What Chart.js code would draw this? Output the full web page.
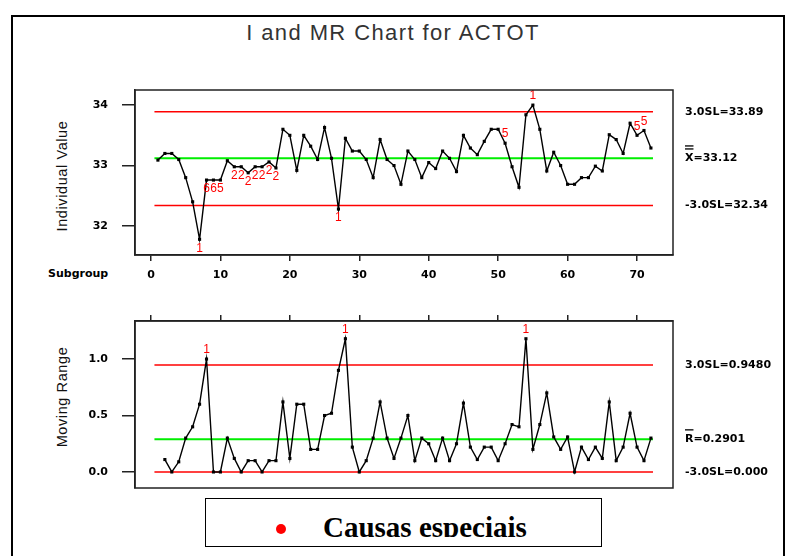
<!DOCTYPE html>
<html>
<head>
<meta charset="utf-8">
<script src="https://cdn.jsdelivr.net/npm/chart.js@4.4.1/dist/chart.umd.min.js"></script>
<style>
  body { margin: 0; background: #fff; width: 786px; height: 556px; overflow: hidden; position: relative; font-family: Arial, "Liberation Sans", sans-serif; }
  #border { position: absolute; left: 11px; top: 15px; width: 770px; height: 600px; border: 2px solid #000; }
  canvas { position: absolute; left: 0; }
  #title { position: absolute; top: 20px; left: 0; width: 786px; text-align: center; font-size: 22px; letter-spacing: 1.4px; color: #333; }
  .ylab { position: absolute; width: 200px; height: 16px; line-height: 16px; text-align: center; font-size: 14.5px; letter-spacing: 0.6px; color: #111; transform: rotate(-90deg); white-space: nowrap; }
  #subgroup { position: absolute; left: 48px; top: 267px; font: bold 11px "DejaVu Sans"; color: #000; }
  #legend { position: absolute; left: 205px; top: 498px; width: 395px; height: 47px; border: 1.5px solid #000; background: #fff; }
  #legend .dot { position: absolute; left: 70px; top: 25px; width: 10px; height: 10px; border-radius: 50%; background: #ff0000; }
  #legend .clip { position: absolute; left: 0; top: 0; width: 395px; height: 38px; overflow: hidden; }
  #legend .txt { position: absolute; left: 117px; top: 12px; line-height: 32px; font: bold 29px "Liberation Serif", "Times New Roman", serif; white-space: nowrap; }
</style>
</head>
<body>
<div id="border"></div>
<div id="title">I and MR Chart for ACTOT</div>
<div class="ylab" style="left:-38px; top:168px;">Individual Value</div>
<div class="ylab" style="left:-38px; top:389px;">Moving Range</div>
<div id="subgroup">Subgroup</div>
<canvas id="iChart" width="786" height="290" style="top:0"></canvas>
<canvas id="mrChart" width="786" height="266" style="top:290px"></canvas>
<div id="legend"><span class="dot"></span><div class="clip"><span class="txt">Causas especiais</span></div></div>

<script>
// individual values, subgroups 1..72
const individual = [
  33.09, 33.2, 33.2, 33.1, 32.8, 32.4, 31.78, 32.76, 32.76, 32.76,
  33.08, 32.98, 32.98, 32.88, 32.98, 32.98, 33.06, 32.96, 33.6, 33.5,
  32.92, 33.5, 33.32, 33.1, 33.63, 33.12, 32.28, 33.45, 33.24, 33.24,
  33.1, 32.8, 33.43, 33.1, 33.0, 32.69, 33.24, 33.1, 32.8, 33.05,
  32.95, 33.24, 33.12, 32.9, 33.5, 33.29, 33.18, 33.4, 33.6, 33.6,
  33.37, 32.98, 32.64, 33.84, 34.0, 33.6, 32.91, 33.22, 33.0, 32.69,
  32.69, 32.8, 32.8, 32.99, 32.91, 33.51, 33.43, 33.2, 33.7, 33.5,
  33.58, 33.29
];

// moving ranges, subgroups 2..72
const movingRange = [
  0.11, 0.0, 0.09, 0.3, 0.4, 0.6, 1.0, 0.0, 0.0,
  0.3, 0.12, 0.0, 0.1, 0.1, 0.0, 0.1, 0.1, 0.62, 0.12,
  0.6, 0.6, 0.2, 0.2, 0.5, 0.52, 0.9, 1.18, 0.22, 0.0,
  0.1, 0.3, 0.62, 0.3, 0.12, 0.3, 0.5, 0.1, 0.3, 0.25,
  0.1, 0.3, 0.1, 0.25, 0.61, 0.22, 0.11, 0.22, 0.22, 0.1,
  0.25, 0.42, 0.4, 1.18, 0.2, 0.42, 0.7, 0.31, 0.2, 0.31,
  0.0, 0.22, 0.11, 0.22, 0.12, 0.62, 0.1, 0.22, 0.52, 0.22,
  0.1, 0.3
];

const iLimits = { ucl: 33.89, center: 33.12, lcl: 32.34 };
const mrLimits = { ucl: 0.948, center: 0.2901, lcl: 0.0 };

const iLimitLabels = ["3.0SL=33.89", "X=33.12", "-3.0SL=32.34"];
const mrLimitLabels = ["3.0SL=0.9480", "R=0.2901", "-3.0SL=0.000"];

// failed tests (subgroup, test number)
const iFlagSubgroups = [7, 8, 9, 10, 12, 13, 14, 15, 16, 17, 18, 27, 51, 55, 70, 71];
const iFlagTests = ["1", "6", "6", "5", "2", "2", "2", "2", "2", "2", "2", "1", "5", "1", "5", "5"];
const mrFlagSubgroups = [8, 28, 54];
const mrFlagTests = ["1", "1", "1"];

const xTicks = [0, 10, 20, 30, 40, 50, 60, 70];
const iTicks = [32, 33, 34];
const mrTicks = [0.0, 0.5, 1.0];

const limitFrom = 0.5;
const limitTo = 72.3;

const tickFont = { family: "DejaVu Sans", size: 11, weight: "bold" };
const axisColor = "#222";

function hLine(y, color, width) {
  return {
    data: [{ x: limitFrom, y }, { x: limitTo, y }],
    borderColor: color,
    borderWidth: width,
    pointRadius: 0,
    order: 2,
  };
}

function seriesSet(values, startAt) {
  return {
    data: values.map((v, i) => ({ x: i + startAt, y: v })),
    borderColor: "#000",
    borderWidth: 1.4,
    pointStyle: "rect",
    pointRadius: 2.2,
    pointBackgroundColor: "#000",
    pointBorderColor: "#000",
    pointBorderWidth: 0,
    tension: 0,
    order: 1,
  };
}

const framePlugin = {
  id: "frame",
  afterDraw(chart) {
    const { ctx, chartArea: a } = chart;
    ctx.save();
    ctx.strokeStyle = axisColor;
    ctx.lineWidth = 1.5;
    ctx.strokeRect(a.left, a.top, a.right - a.left, a.bottom - a.top);
    ctx.restore();
  },
};

const sideLabelPlugin = {
  id: "sideLabels",
  afterDraw(chart, args, opts) {
    const { ctx, chartArea: a } = chart;
    const ys = chart.scales.y;
    ctx.save();
    ctx.font = "bold 11px 'DejaVu Sans'";
    ctx.fillStyle = "#000";
    ctx.textBaseline = "middle";
    ctx.textAlign = "left";
    const x = a.right + 12;
    opts.values.forEach((v, k) => {
      const y = ys.getPixelForValue(v);
      ctx.fillText(opts.texts[k], x, y);
      if (k === 1) {
        const w = ctx.measureText(opts.texts[k][0]).width;
        ctx.fillRect(x, y - 10, w, 1.3);
        if (opts.doubleBar) ctx.fillRect(x, y - 13, w, 1.3);
      }
    });
    ctx.restore();
  },
};

const flagPlugin = {
  id: "flags",
  afterDatasetsDraw(chart, args, opts) {
    const { ctx } = chart;
    const xs = chart.scales.x;
    const ys = chart.scales.y;
    const data = opts.values;
    ctx.save();
    ctx.font = "12px Arial";
    ctx.fillStyle = "#ff0000";
    ctx.textAlign = "center";
    ctx.textBaseline = "middle";
    opts.subgroups.forEach((s, k) => {
      const v = data[s - opts.startAt];
      const px = xs.getPixelForValue(s);
      const py = ys.getPixelForValue(v);
      const above = v >= opts.center;
      ctx.fillText(opts.tests[k], px, above ? py - 9 : py + 9);
    });
    ctx.restore();
  },
};

function xAxis(position, showLabels, height) {
  return {
    type: "linear",
    position,
    min: -2.3,
    max: 75.18,
    afterBuildTicks: (scale) => { scale.ticks = xTicks.map((v) => ({ value: v })); },
    ticks: { display: showLabels, color: "#000", font: tickFont, padding: 8, maxRotation: 0, autoSkip: false },
    grid: { drawOnChartArea: false, tickLength: 6, color: axisColor, lineWidth: 1.5 },
    border: { color: axisColor, width: 1.5 },
    afterFit: (scale) => { scale.height = height; },
  };
}

function yAxis(min, max, tickValues, fmt) {
  return {
    type: "linear",
    min,
    max,
    afterBuildTicks: (scale) => { scale.ticks = tickValues.map((v) => ({ value: v })); },
    ticks: { color: "#000", font: tickFont, padding: 14, callback: fmt },
    grid: { drawOnChartArea: false, tickLength: 13, color: axisColor, lineWidth: 1.5 },
    border: { color: axisColor, width: 1.5 },
    afterFit: (scale) => { scale.width = 135; },
  };
}

const common = {
  responsive: false,
  animation: false,
  plugins: { legend: { display: false }, tooltip: { enabled: false } },
};

new Chart(document.getElementById("iChart"), {
  type: "line",
  data: {
    datasets: [
      seriesSet(individual, 1),
      hLine(iLimits.ucl, "#ff0000", 1.5),
      hLine(iLimits.center, "#00ee00", 2),
      hLine(iLimits.lcl, "#ff0000", 1.5),
    ],
  },
  options: {
    ...common,
    layout: { padding: { top: 90, right: 113, left: 0, bottom: 0 } },
    scales: {
      x: xAxis("bottom", true, 35),
      y: yAxis(31.52, 34.25, iTicks, (v) => String(v)),
    },
    plugins: {
      ...common.plugins,
      sideLabels: { values: [iLimits.ucl, iLimits.center, iLimits.lcl], texts: iLimitLabels, doubleBar: true },
      flags: { values: individual, startAt: 1, subgroups: iFlagSubgroups, tests: iFlagTests, center: iLimits.center },
    },
  },
  plugins: [framePlugin, sideLabelPlugin, flagPlugin],
});

new Chart(document.getElementById("mrChart"), {
  type: "line",
  data: {
    datasets: [
      seriesSet(movingRange, 2),
      hLine(mrLimits.ucl, "#ff0000", 1.5),
      hLine(mrLimits.center, "#00ee00", 2),
      hLine(mrLimits.lcl, "#ff0000", 1.5),
    ],
  },
  options: {
    ...common,
    layout: { padding: { top: 0, right: 113, left: 0, bottom: 68 } },
    scales: {
      x: xAxis("top", false, 31),
      y: yAxis(-0.142, 1.337, mrTicks, (v) => v.toFixed(1)),
    },
    plugins: {
      ...common.plugins,
      sideLabels: { values: [mrLimits.ucl, mrLimits.center, mrLimits.lcl], texts: mrLimitLabels, doubleBar: false },
      flags: { values: movingRange, startAt: 2, subgroups: mrFlagSubgroups, tests: mrFlagTests, center: mrLimits.center },
    },
  },
  plugins: [framePlugin, sideLabelPlugin, flagPlugin],
});
</script>
</body>
</html>
